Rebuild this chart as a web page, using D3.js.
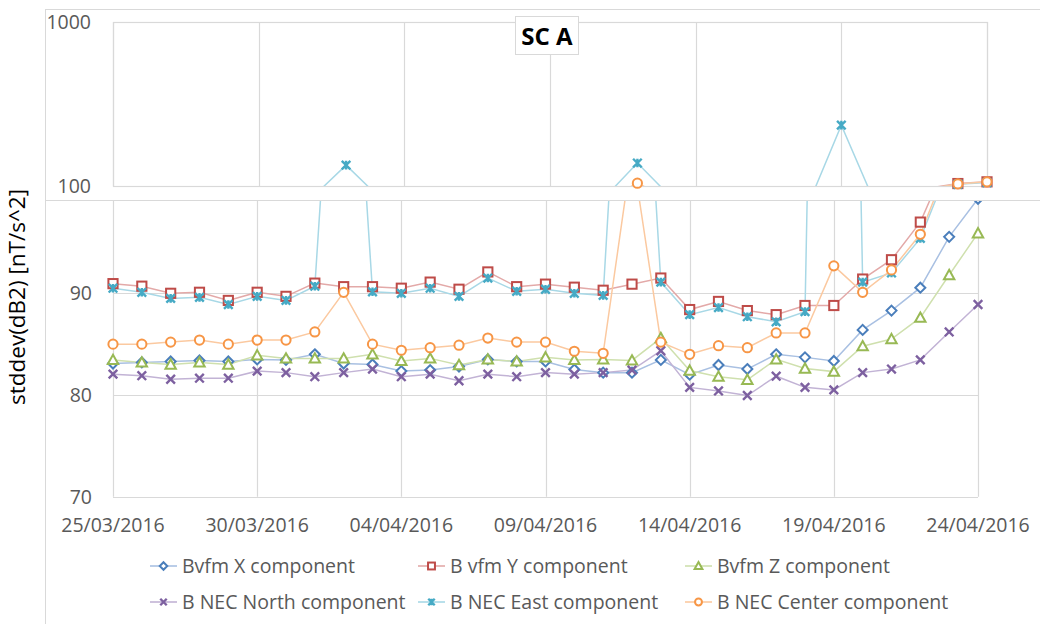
<!DOCTYPE html>
<html><head><meta charset="utf-8">
<script src="https://cdn.jsdelivr.net/npm/d3@7"></script>
<style>
body{margin:0;background:#fff;}
svg{display:block;font-family:"Open Sans","Noto Sans",sans-serif;}
</style></head>
<body><svg id="c" width="1040" height="624"></svg>
<script>
const dates = ["25/03/2016","26/03/2016","27/03/2016","28/03/2016","29/03/2016","30/03/2016","31/03/2016",
"01/04/2016","02/04/2016","03/04/2016","04/04/2016","05/04/2016","06/04/2016","07/04/2016","08/04/2016",
"09/04/2016","10/04/2016","11/04/2016","12/04/2016","13/04/2016","14/04/2016","15/04/2016","16/04/2016",
"17/04/2016","18/04/2016","19/04/2016","20/04/2016","21/04/2016","22/04/2016","23/04/2016","24/04/2016"];
const tickLabels = ["25/03/2016","30/03/2016","04/04/2016","09/04/2016","14/04/2016","19/04/2016","24/04/2016"];
const lowTicks = [70,80,90];
const upTicks = [100,1000];

const bvfmX = [83.1,83.2,83.3,83.4,83.3,83.5,83.45,84.0,83.1,83.0,82.35,82.45,82.8,83.5,83.3,83.3,82.5,82.2,82.2,83.45,82.0,82.95,82.55,84.0,83.7,83.35,86.4,88.3,90.55,95.55,99.3];
const bvfmY = [90.95,90.7,90.0,90.1,89.3,90.1,89.7,91.0,90.65,90.65,90.5,91.1,90.4,92.1,90.65,90.9,90.6,90.3,90.9,91.5,88.4,89.2,88.3,87.9,88.8,88.8,91.4,93.3,97.0,103.5,106];
const bvfmZ = [83.45,83.2,83.0,83.2,83.0,83.9,83.6,83.6,83.6,84.0,83.35,83.6,82.95,83.5,83.3,83.7,83.45,83.5,83.4,85.6,82.4,81.8,81.5,83.5,82.6,82.3,84.8,85.5,87.6,91.8,95.9];
const necNorth = [82.05,81.9,81.55,81.65,81.65,82.35,82.2,81.8,82.2,82.55,81.8,82.05,81.4,82.05,81.8,82.2,82.05,82.2,82.45,84.35,80.75,80.4,79.95,81.85,80.75,80.5,82.2,82.55,83.45,86.2,88.9];
const necEast = [90.5,90.1,89.5,89.6,88.9,89.7,89.3,90.7,134,90.15,90.0,90.5,89.7,91.5,90.2,90.4,90.0,89.8,138,91.1,87.9,88.6,87.7,87.2,88.2,235,91.1,92.0,95.4,102.5,105];
const necCenter = [85.0,85.0,85.2,85.4,85.0,85.4,85.4,86.2,90.1,85.0,84.4,84.65,84.9,85.6,85.2,85.2,84.3,84.1,104,85.2,84.0,84.85,84.65,86.1,86.1,92.7,90.1,92.3,95.8,103,106];

const seriesNames = ["Bvfm X component","B vfm Y component","Bvfm Z component","B NEC North component","B NEC East component","B NEC Center component"];
const seriesData = [bvfmX,bvfmY,bvfmZ,necNorth,necEast,necCenter];
const colors = ["#4A7EBB","#BE4B48","#98B954","#7D60A0","#46AAC5","#F79646"];
const lineColors = ["#A9C0E2","#E3A9A8","#CFE0AE","#C2B3D5","#A8D8E6","#FBC9A0"];
const shapes = ["diamond","square","triangle","x","star","circle"];

const parse = d3.utcParse("%d/%m/%Y");
const dts = dates.map(parse);
const svg = d3.select("#c");
const gridC = "#D9D9D9", txtC = "#595959", fs = 19.5;

function marker(g, shape, x, y, color, s) {
  s = s || 1;
  if (shape === "circle") {
    g.append("circle").attr("cx",x).attr("cy",y).attr("r",4.6*s).attr("fill","#fff").attr("stroke",color).attr("stroke-width",2);
  } else if (shape === "square") {
    const h = 4.6*s;
    g.append("rect").attr("x",x-h).attr("y",y-h).attr("width",2*h).attr("height",2*h).attr("fill","#fff").attr("stroke",color).attr("stroke-width",2);
  } else if (shape === "diamond") {
    const h = 5*s;
    g.append("path").attr("d",`M${x},${y-h}L${x+h},${y}L${x},${y+h}L${x-h},${y}Z`).attr("fill","#fff").attr("stroke",color).attr("stroke-width",2);
  } else if (shape === "triangle") {
    const h = 5.2*s;
    g.append("path").attr("d",`M${x},${y-h}L${x+h},${y+h*0.8}L${x-h},${y+h*0.8}Z`).attr("fill","#fff").attr("stroke",color).attr("stroke-width",2);
  } else if (shape === "x") {
    const h = 4.3*s;
    g.append("path").attr("d",`M${x-h},${y-h}L${x+h},${y+h}M${x-h},${y+h}L${x+h},${y-h}`).attr("stroke",color).attr("stroke-width",2.4);
  } else if (shape === "star") {
    const h = 4.3*s;
    g.append("path").attr("d",`M${x-h},${y-h}L${x+h},${y+h}M${x-h},${y+h}L${x+h},${y-h}M${x},${y-h}L${x},${y+h}`).attr("stroke",color).attr("stroke-width",2.4);
  }
}

// ---------- lower chart ----------
const lowL = 113, lowR = 978;
const xLow = d3.scaleUtc().domain([dts[0], dts[dts.length-1]]).range([lowL, lowR]);
const yLow = d3.scaleLinear().domain([70,100]).range([496.7,191.6]);

svg.append("rect").attr("x",45.5).attr("y",200.5).attr("width",1000).attr("height",500).attr("fill","#fff").attr("stroke",gridC);

const defs = svg.append("defs");
defs.append("clipPath").attr("id","clipLow").append("rect").attr("x",lowL).attr("y",yLow(100)).attr("width",lowR-lowL).attr("height",yLow(70)-yLow(100));

const gLow = svg.append("g");
gLow.selectAll("line.h").data(lowTicks).join("line")
  .attr("x1",lowL).attr("x2",lowR).attr("y1",d=>Math.round(yLow(d))+0.5).attr("y2",d=>Math.round(yLow(d))+0.5)
  .attr("stroke",gridC).attr("stroke-width",1.2);
gLow.selectAll("line.v").data(tickLabels).join("line")
  .attr("x1",d=>Math.round(xLow(parse(d)))+0.5).attr("x2",d=>Math.round(xLow(parse(d)))+0.5)
  .attr("y1",yLow(100)).attr("y2",yLow(70)).attr("stroke",gridC).attr("stroke-width",1.2);
gLow.selectAll("text.yl").data(lowTicks).join("text")
  .attr("x",92).attr("y",d=>yLow(d)).attr("dy","0.35em").attr("text-anchor","end")
  .attr("fill",txtC).attr("font-size",fs).text(d=>d);
gLow.selectAll("text.xl").data(tickLabels).join("text")
  .attr("x",d=>xLow(parse(d))).attr("y",532).attr("text-anchor","middle")
  .attr("fill",txtC).attr("font-size",fs).text(d=>d);

const lineLow = d3.line().x((d,i)=>xLow(dts[i])).y(d=>yLow(d));
const gLowS = gLow.append("g");
seriesData.forEach((s,k)=>{
  gLowS.append("path").attr("d",lineLow(s)).attr("fill","none").attr("stroke",lineColors[k]).attr("stroke-width",1.5).attr("clip-path","url(#clipLow)");
});
seriesData.forEach((s,k)=>{
  s.forEach((v,i)=>{ if (v>=70 && v<=100) marker(gLowS, shapes[k], xLow(dts[i]), yLow(v), colors[k]); });
});

svg.append("text").attr("transform","translate(25,297) rotate(-90)").attr("text-anchor","middle")
  .attr("font-size",22.5).attr("fill","#000").text("stddev(dB2) [nT/s^2]");

// legend
const legX = [150,418,685], legY = [566,602];
seriesNames.forEach((n,k)=>{
  const col = k%3, row = Math.floor(k/3);
  const g = svg.append("g");
  const x0 = legX[col], y0 = legY[row];
  g.append("line").attr("x1",x0).attr("x2",x0+27).attr("y1",y0).attr("y2",y0).attr("stroke",lineColors[k]).attr("stroke-width",1.6);
  marker(g, shapes[k], x0+13.5, y0, colors[k], 0.75);
  g.append("text").attr("x",x0+32).attr("y",y0).attr("dy","0.35em").attr("fill",txtC).attr("font-size",fs).text(n);
});

// ---------- upper chart ----------
const upL = 113, upR = 987, upT = 22, upB = 186;
const xUp = d3.scaleUtc().domain([dts[0], dts[dts.length-1]]).range([upL, upR]);
const yUp = d3.scaleLog().domain([100,1000]).range([upB, upT]);

svg.append("rect").attr("x",45.5).attr("y",9.5).attr("width",1000).attr("height",191).attr("fill","#fff").attr("stroke",gridC);
defs.append("clipPath").attr("id","clipUp").append("rect").attr("x",upL).attr("y",upT).attr("width",upR-upL).attr("height",upB-upT);
const gUp = svg.append("g");
gUp.append("rect").attr("x",upL+0.5).attr("y",upT+0.5).attr("width",upR-upL).attr("height",upB-upT).attr("fill","none").attr("stroke",gridC).attr("stroke-width",1.2);
gUp.selectAll("line.v").data(tickLabels).join("line")
  .attr("x1",d=>Math.round(xUp(parse(d)))+0.5).attr("x2",d=>Math.round(xUp(parse(d)))+0.5)
  .attr("y1",upT).attr("y2",upB).attr("stroke",gridC).attr("stroke-width",1.2);
gUp.selectAll("text.yl").data(upTicks).join("text")
  .attr("x",91).attr("y",d=>yUp(d)).attr("dy","0.35em").attr("text-anchor","end")
  .attr("fill",txtC).attr("font-size",fs).text(d=>d);
const lineUp = d3.line().x((d,i)=>xUp(dts[i])).y(d=>yUp(d));
seriesData.forEach((s,k)=>{
  gUp.append("path").attr("d",lineUp(s)).attr("fill","none").attr("stroke",lineColors[k]).attr("stroke-width",1.5).attr("clip-path","url(#clipUp)");
});
seriesData.forEach((s,k)=>{
  s.forEach((v,i)=>{ if (v>=100 && v<=1000) marker(gUp, shapes[k], xUp(dts[i]), yUp(v), colors[k]); });
});

// title
const tg = svg.append("g");
tg.append("rect").attr("x",515.5).attr("y",16.5).attr("width",63).attr("height",38).attr("fill","#fff").attr("stroke",gridC);
tg.append("text").attr("x",547).attr("y",37).attr("dy","0.35em").attr("text-anchor","middle")
  .attr("font-size",24).attr("font-weight","bold").attr("fill","#000").text("SC A");
</script></body></html>
